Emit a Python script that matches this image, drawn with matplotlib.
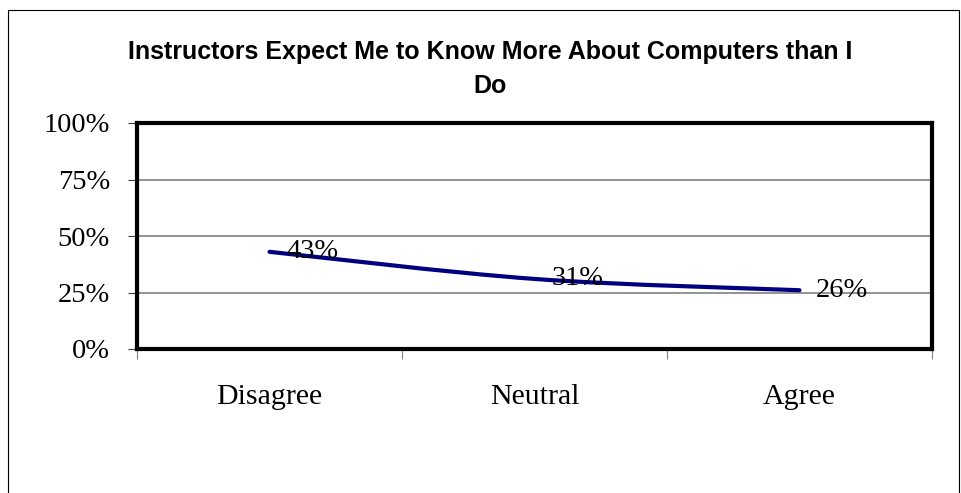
import matplotlib
matplotlib.use("Agg")
import matplotlib.pyplot as plt
from matplotlib.path import Path
from matplotlib.patches import PathPatch, Rectangle
from matplotlib.ticker import FixedLocator

# donnees
categories = ["Disagree", "Neutral", "Agree"]
valeurs = [0.43, 0.31, 0.26]
etiquettes = ["43%", "31%", "26%"]
ticks_y = [0, 0.25, 0.5, 0.75, 1.0]
labels_y = ["0%", "25%", "50%", "75%", "100%"]

titre = "Instructors Expect Me to Know More About Computers than I\nDo"
police_serif = "Liberation Serif"
police_sans = "Liberation Sans"

fig = plt.figure(figsize=(9.61, 4.93), dpi=100)
ax = fig.add_axes([137 / 961, 1 - 349 / 493, 795 / 961, 226 / 493])

# courbe lissee (bezier, facon excel)
xs = list(range(len(valeurs)))
pts = list(zip(xs, valeurs))
n = len(pts)
verts = [pts[0]]
codes = [Path.MOVETO]
for i in range(n - 1):
    p_avant = pts[i - 1] if i > 0 else pts[i]
    p0 = pts[i]
    p1 = pts[i + 1]
    p_apres = pts[i + 2] if i + 2 < n else pts[i + 1]
    c1 = (p0[0] + (p1[0] - p_avant[0]) / 6, p0[1] + (p1[1] - p_avant[1]) / 6)
    c2 = (p1[0] - (p_apres[0] - p0[0]) / 6, p1[1] - (p_apres[1] - p0[1]) / 6)
    verts += [c1, c2, p1]
    codes += [Path.CURVE4, Path.CURVE4, Path.CURVE4]
courbe = PathPatch(Path(verts, codes), facecolor="none", edgecolor="#000080",
                   linewidth=3, capstyle="round", joinstyle="round", zorder=3)
ax.add_patch(courbe)

for x, v, txt in zip(xs, valeurs, etiquettes):
    ax.annotate(txt, (x, v), xytext=(12, 0), textcoords="offset points",
                ha="left", va="center", fontsize=20.5, family=police_serif,
                color="black", zorder=4)

ax.set_xlim(-0.5, len(categories) - 0.5)
ax.set_ylim(0, 1)

# grille
for t in ticks_y[1:-1]:
    ax.axhline(t, color="#808080", linewidth=1.2, zorder=1)

ax.yaxis.set_major_locator(FixedLocator(ticks_y))
ax.set_yticklabels(labels_y, fontsize=20.5, family=police_serif)
ax.tick_params(axis="y", direction="out", length=6.5, width=0.8, pad=13,
               color="#404040")

ax.xaxis.set_major_locator(FixedLocator([i - 0.5 for i in range(len(categories) + 1)]))
ax.xaxis.set_minor_locator(FixedLocator(xs))
ax.set_xticklabels([""] * (len(categories) + 1))
ax.set_xticklabels(categories, minor=True, fontsize=21.5, family=police_serif)
ax.tick_params(axis="x", which="major", direction="out", length=7, width=0.8,
               color="#808080")
ax.tick_params(axis="x", which="minor", length=0, pad=25)

for s in ax.spines.values():
    s.set_linewidth(3)
    s.set_color("black")

fig.text(490 / 961, 1 - 69 / 493, titre, ha="center", va="center",
         fontsize=18, fontweight="bold", family=police_sans, linespacing=1.5)

# cadre exterieur
fig.add_artist(Rectangle((8 / 961, -0.2), 951 / 961, 1.2 - 10 / 493,
                         transform=fig.transFigure, fill=False,
                         edgecolor="black", linewidth=0.8, clip_on=False))

fig.savefig("out.png", dpi=100, facecolor="white")
